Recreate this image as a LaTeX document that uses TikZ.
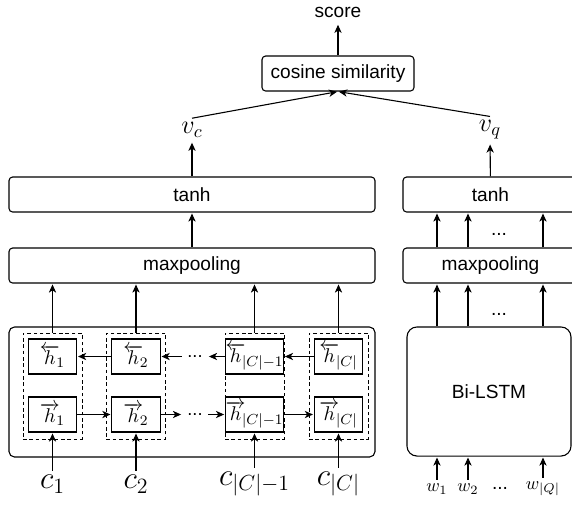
\documentclass[tikz,border=0pt]{standalone}
\usepackage{fontspec}
\setmainfont{Liberation Sans}
\usetikzlibrary{arrows,arrows.meta,positioning}

\newcommand{\hb}[1]{\overleftarrow{h}\mkern-3mu_{#1}}
\newcommand{\hf}[1]{\overrightarrow{h}\mkern-3mu_{#1}}

\begin{document}
\begin{tikzpicture}[->,>={Stealth[length=4.5pt,width=4pt,inset=1.3pt]},shorten >=0.5pt,semithick,x=0.55pt,y=-0.55pt,
		txt/.style={font=\fontsize{10.5}{12}\selectfont},
		blk/.style={draw,txt,rounded corners=2pt,inner sep=0,minimum height=19.25pt},
		cell/.style={draw,inner sep=0,minimum width=26.5pt,minimum height=19.25pt,font=\fontsize{11}{13}\selectfont},
		grp/.style={draw,dashed,dash pattern=on 2pt off 1.5pt,thin,inner sep=0,
			minimum width=32.5pt,minimum height=58.3pt},
		lbl/.style={font=\Large,inner sep=2pt}]
	\useasboundingbox (0,0) rectangle (572,504);
	
	\node[txt] (score) at (338,12) {score};
	\node[blk,minimum width=83.6pt] (cos) at (338,73.5) {cosine similarity};
	\node[lbl] (vc) at (192,130) {$v_c$};
	\node[lbl] (vq) at (490,130) {$v_q$};
	
	% context side
	\node[blk,minimum width=201.3pt] (tanhC) at (192,194.5) {tanh};
	\node[blk,minimum width=201.3pt] (poolC) at (192,265.5) {maxpooling};
	\node[draw,rounded corners=3pt,minimum width=201.3pt,minimum height=71.5pt] (rnn) at (192,392) {};
	
	\foreach \i/\x/\s in {1/52.5/1,2/136/2,3/254.5/{|C|-1},4/338.5/{|C|}} {
		\node[grp] (g\i) at (\x,386) {};
		\node[cell] (hb\i) at (\x,356.5) {$\hb{\s}$};
		\node[cell] (hf\i) at (\x,414.5) {$\hf{\s}$};
		\node[font=\LARGE,inner sep=2pt] (c\i) at (\x,484) {$c_{\s}$};
		\path (c\i.north) edge (hf\i.south);
		\path (g\i.north) edge (g\i.north |- poolC.south);
	}
	\node[inner xsep=2.7pt,inner ysep=0] (dotsT) at (195,356.5) {...};
	\node[inner xsep=2.7pt,inner ysep=0] (dotsB) at (195,414.5) {...};
	
	\path (hb2) edge (hb1) (dotsT) edge (hb2) (hb3) edge (dotsT) (hb4) edge (hb3);
	\path (hf1) edge (hf2) (hf2) edge (dotsB) (dotsB) edge (hf3) (hf3) edge (hf4);
	\path (poolC) edge (tanhC);
	\path (tanhC) edge (vc);
	
	% question side
	\node[blk,minimum width=96.25pt] (tanhQ) at (490.5,194.5) {tanh};
	\node[blk,minimum width=96.25pt] (poolQ) at (490.5,265.5) {maxpooling};
	\node[draw,txt,rounded corners=5.5pt,minimum width=90.2pt,minimum height=71pt] (bilstm) at (489,391.5) {Bi-LSTM};
	
	\foreach \i/\x/\s in {1/437/1,2/468/2,3/543/{|Q|}} {
		\node[inner sep=2pt] (w\i) at (\x,489) {$w_{\s}$};
		\path (w\i.north) edge (w\i |- bilstm.south);
		\path (w\i |- bilstm.north) edge (w\i |- poolQ.south);
		\path (w\i |- poolQ.north) edge (w\i |- tanhQ.south);
	}
	\node[txt] (dotsW) at (500,488) {...};
	\node[txt] (dotsL) at (499,314) {...};
	\node[txt] (dotsP) at (499,234) {...};
	\path (tanhQ) edge (vq);
	
	\path (vc.north) edge (cos.south);
	\path (vq.north) edge (cos.south);
	\path (cos) edge (score);
\end{tikzpicture}
\end{document}
